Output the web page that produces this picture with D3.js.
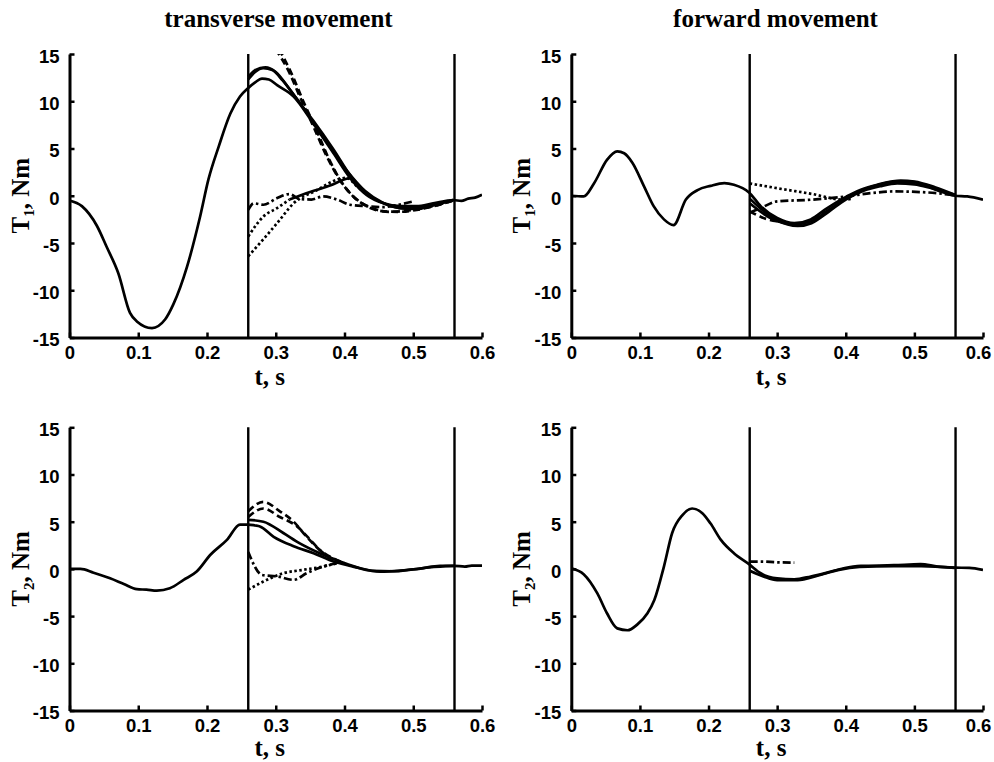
<!DOCTYPE html>
<html>
<head>
<meta charset="utf-8">
<script src="https://cdn.jsdelivr.net/npm/d3@7"></script>
<style>
  body { margin: 0; background: #fff; }
  .tick text { font-family: "Liberation Sans", Arial, sans-serif; font-weight: bold; font-size: 18.5px; fill: #000; }
  .lbl { font-family: "Liberation Serif", "Times New Roman", serif; font-weight: bold; fill: #000; }
</style>
</head>
<body>
<svg id="chart" width="994" height="762"></svg>
<script>
'use strict';

// tick values
const xTicks = [0, 0.1, 0.2, 0.3, 0.4, 0.5, 0.6];
const yTicks = [-15, -10, -5, 0, 5, 10, 15];
const markers = [0.26, 0.56];

// T1, transverse movement
const t1TrMain = [[0,-0.5],[0.018,-1.1],[0.04,-3.2],[0.054,-5.4],[0.071,-8.2],[0.088,-12.4],[0.098,-13.3],[0.12,-14.0],[0.139,-13.1],[0.151,-11.5],[0.171,-7.5],[0.19,-2.2],[0.202,1.7],[0.217,5.2],[0.234,8.7],[0.248,10.5],[0.26,11.4],[0.27,12.0],[0.28,12.4],[0.29,12.3],[0.302,11.7],[0.326,10.5],[0.355,7.6],[0.384,4.5],[0.408,1.9],[0.432,0.1],[0.457,-0.8],[0.481,-1.1],[0.505,-1.1],[0.529,-0.8],[0.558,-0.45],[0.57,-0.55],[0.58,-0.3],[0.59,-0.2],[0.6,0.1]];
const t1TrSolidB = [[0.26,12.3],[0.27,13.1],[0.282,13.5],[0.295,13.3],[0.31,12.2],[0.33,10.3],[0.355,7.9],[0.384,4.9],[0.41,2.0],[0.435,0.1],[0.46,-0.9],[0.485,-1.3],[0.51,-1.2],[0.535,-0.9],[0.558,-0.45]];
const t1TrSolidC = [[0.26,12.6],[0.27,13.3],[0.285,13.6],[0.3,13.1],[0.32,11.3],[0.345,8.8],[0.375,5.6],[0.405,2.5],[0.43,0.5],[0.455,-0.7],[0.48,-1.3],[0.505,-1.4],[0.53,-1.0],[0.558,-0.45]];
const t1TrDashA = [[0.3,15.5],[0.32,13.0],[0.335,10.5],[0.355,7.3],[0.374,4.2],[0.393,1.7],[0.413,-0.1],[0.432,-1.1],[0.457,-1.65],[0.48,-1.7],[0.505,-1.5],[0.53,-1.1],[0.558,-0.5]];
const t1TrDashB = [[0.305,15.5],[0.325,12.6],[0.34,10.0],[0.36,6.8],[0.378,3.8],[0.397,1.3],[0.418,-0.4],[0.44,-1.3],[0.465,-1.7],[0.49,-1.6],[0.515,-1.3],[0.54,-0.9],[0.558,-0.5]];
const t1TrDashDot = [[0.26,-1.5],[0.268,-0.8],[0.282,-0.95],[0.302,-0.25],[0.32,0.18],[0.335,-0.35],[0.352,-0.4],[0.369,-0.07],[0.389,-0.4],[0.408,-0.95],[0.432,-1.1],[0.457,-1.2],[0.475,-1.0],[0.5,-0.6]];
const t1TrDotA = [[0.26,-4.3],[0.282,-2.2],[0.302,-1.3],[0.32,-0.4]];
const t1TrRise = [[0.32,-0.4],[0.35,0.4],[0.38,1.1],[0.403,1.8],[0.41,1.9]];
const t1TrDotB = [[0.26,-6.4],[0.282,-4.6],[0.302,-2.9],[0.326,-0.8],[0.36,0.6],[0.389,1.7],[0.403,1.9],[0.418,1.0],[0.44,-0.2]];

// T1, forward movement
const t1FwMain = [[0,0],[0.018,-0.07],[0.033,1.3],[0.052,3.8],[0.067,4.7],[0.077,4.5],[0.089,3.5],[0.106,1.0],[0.12,-1.1],[0.135,-2.5],[0.149,-3.1],[0.167,-0.4],[0.184,0.6],[0.203,1.05],[0.223,1.34],[0.237,1.16],[0.259,0.35],[0.276,-1.1],[0.3,-2.36],[0.325,-2.9],[0.349,-2.5],[0.373,-1.3],[0.397,-0.25],[0.422,0.63],[0.446,1.16],[0.47,1.5],[0.494,1.5],[0.519,1.0],[0.538,0.46],[0.559,0],[0.577,-0.07],[0.6,-0.42]];
const t1FwSolidB = [[0.26,-0.3],[0.28,-1.6],[0.3,-2.6],[0.33,-3.2],[0.35,-2.9],[0.375,-1.7],[0.4,-0.4],[0.425,0.5],[0.45,1.0],[0.475,1.3],[0.5,1.2],[0.525,0.8],[0.559,0.1]];
const t1FwSolidC = [[0.26,-0.8],[0.28,-1.9],[0.3,-2.7],[0.325,-3.0],[0.35,-2.7],[0.375,-1.5],[0.4,-0.3],[0.425,0.6],[0.45,1.2],[0.48,1.6],[0.5,1.5],[0.53,0.9],[0.559,0.1]];
const t1FwDash = [[0.26,-1.65],[0.286,-2.5],[0.31,-2.8],[0.33,-3.0],[0.35,-2.6],[0.37,-1.6]];
const t1FwDot = [[0.26,1.3],[0.3,0.8],[0.35,0.2],[0.397,-0.42],[0.41,-0.3]];
const t1FwDashDot = [[0.26,-1.8],[0.276,-1.3],[0.3,-0.6],[0.349,-0.42],[0.397,-0.1],[0.44,0.3],[0.47,0.46],[0.519,0.35],[0.559,0.05]];

// T2, transverse movement
const t2TrMain = [[0,0],[0.016,0],[0.035,-0.4],[0.059,-1.0],[0.079,-1.6],[0.098,-2.15],[0.112,-2.2],[0.127,-2.3],[0.146,-2.05],[0.166,-1.16],[0.185,-0.28],[0.205,1.5],[0.229,3.07],[0.248,4.7],[0.26,4.7],[0.27,4.6],[0.277,4.5],[0.297,3.4],[0.326,2.4],[0.355,1.66],[0.384,0.78],[0.41,0.3],[0.44,-0.2],[0.47,-0.25],[0.5,-0.05],[0.53,0.2],[0.559,0.32],[0.575,0.25],[0.585,0.35],[0.6,0.35]];
const t2TrSolidB = [[0.26,5.2],[0.282,5.0],[0.311,3.8],[0.335,2.7],[0.364,1.66],[0.394,0.78],[0.423,0.07],[0.452,-0.28],[0.481,-0.18],[0.51,0.04],[0.539,0.32],[0.559,0.32]];
const t2TrDashA = [[0.26,6.1],[0.282,7.1],[0.306,6.1],[0.326,5.0],[0.345,3.4],[0.364,2.0],[0.384,1.1],[0.4,0.6]];
const t2TrDashB = [[0.26,5.5],[0.282,6.4],[0.306,5.5],[0.331,4.5],[0.35,3.1],[0.364,2.0],[0.384,1.0]];
const t2TrDashDot = [[0.26,1.8],[0.28,-0.64],[0.302,-0.8],[0.326,-1.16],[0.345,-0.46],[0.369,0.25],[0.389,0.6]];
const t2TrDot = [[0.26,-2.2],[0.282,-1.34],[0.311,-0.46],[0.34,-0.1],[0.369,0.25],[0.389,0.6]];

// T2, forward movement
const t2FwMain = [[0,0.07],[0.018,-0.56],[0.038,-2.6],[0.052,-4.7],[0.067,-6.3],[0.082,-6.5],[0.096,-5.9],[0.111,-4.7],[0.121,-3.3],[0.135,0.25],[0.147,3.8],[0.162,5.7],[0.176,6.4],[0.191,5.9],[0.203,4.8],[0.218,3.07],[0.237,1.66],[0.259,0.5],[0.276,-0.46],[0.3,-1.0],[0.325,-1.1],[0.349,-0.8],[0.373,-0.39],[0.397,0.07],[0.422,0.32],[0.47,0.39],[0.509,0.5],[0.534,0.25],[0.559,0.14],[0.58,0.1],[0.6,-0.1]];
const t2FwSolidB = [[0.26,-0.2],[0.28,-0.8],[0.3,-1.2],[0.33,-1.2],[0.36,-0.7],[0.39,-0.1],[0.42,0.2],[0.47,0.3],[0.51,0.3],[0.559,0.1]];
const t2FwDashDot = [[0.26,0.78],[0.276,0.78],[0.3,0.7],[0.325,0.67]];

const dashes = { solid: null, dash: '7,4', dot: '2.5,2.5', dashdot: '8,3,2.5,3' };

const panels = [
    { left: 69.5, right: 482, top: 54, bottom: 337.5, title: 'transverse movement', sub: '1', xlab: 385,
      series: [[t1TrMain,'solid'],[t1TrSolidB,'solid'],[t1TrSolidC,'solid'],[t1TrDashA,'dash'],[t1TrDashB,'dash'],[t1TrDashDot,'dashdot'],[t1TrDotA,'dot'],[t1TrRise,'solid'],[t1TrDotB,'dot']] },
    { left: 571.3, right: 983, top: 54, bottom: 337.5, title: 'forward movement', sub: '1', xlab: 385,
      series: [[t1FwMain,'solid'],[t1FwSolidB,'solid'],[t1FwSolidC,'solid'],[t1FwDash,'dash'],[t1FwDot,'dot'],[t1FwDashDot,'dashdot']] },
    { left: 69.5, right: 482, top: 427.3, bottom: 710.5, sub: '2', xlab: 756,
      series: [[t2TrMain,'solid'],[t2TrSolidB,'solid'],[t2TrDashA,'dash'],[t2TrDashB,'dash'],[t2TrDashDot,'dashdot'],[t2TrDot,'dot']] },
    { left: 571.3, right: 983, top: 427.3, bottom: 710.5, sub: '2', xlab: 756,
      series: [[t2FwMain,'solid'],[t2FwSolidB,'solid'],[t2FwDashDot,'dashdot']] }
];

const svg = d3.select('#chart');
svg.append('rect').attr('width', 994).attr('height', 762).attr('fill', '#fff');

panels.forEach(function(p, i) {
    const x = d3.scaleLinear().domain([0, 0.6]).range([p.left, p.right]);
    const y = d3.scaleLinear().domain([-15, 15]).range([p.bottom, p.top]);

    svg.append('defs').append('clipPath')
        .attr('id', 'clip' + i)
        .append('rect')
        .attr('x', p.left).attr('y', p.top)
        .attr('width', p.right - p.left).attr('height', p.bottom - p.top);

    // marker lines
    svg.append('g').selectAll('line')
        .data(markers)
        .join('line')
        .attr('x1', d => x(d)).attr('x2', d => x(d))
        .attr('y1', y(15)).attr('y2', y(-15))
        .attr('stroke', '#000')
        .attr('stroke-width', 2.4);

    const line = d3.line()
        .x(d => x(d[0]))
        .y(d => y(d[1]))
        .curve(d3.curveMonotoneX);

    svg.append('g')
        .attr('clip-path', 'url(#clip' + i + ')')
        .selectAll('path')
        .data(p.series)
        .join('path')
        .attr('d', d => line(d[0]))
        .attr('fill', 'none')
        .attr('stroke', '#000')
        .attr('stroke-width', 2.7)
        .attr('stroke-dasharray', d => dashes[d[1]]);

    const xAxis = d3.axisBottom(x)
        .tickValues(xTicks)
        .tickSizeInner(-5)
        .tickSizeOuter(0)
        .tickPadding(8.5)
        .tickFormat(d => d === 0 ? '0' : d3.format('.1f')(d));
    const gx = svg.append('g')
        .attr('transform', 'translate(0,' + p.bottom + ')')
        .call(xAxis);
    // keep the last label inside the page on the right-hand panels
    if (p.right > 900) {
        gx.selectAll('.tick text').filter(d => d === 0.6).attr('x', -5);
    }

    const yAxis = d3.axisLeft(y)
        .tickValues(yTicks)
        .tickSizeInner(-5)
        .tickSizeOuter(0)
        .tickPadding(10)
        .tickFormat(d => String(d));
    const gy = svg.append('g')
        .attr('transform', 'translate(' + p.left + ',0)')
        .call(yAxis);
    gy.selectAll('.tick text').attr('dy', '0.45em');

    [gx, gy].forEach(function(g) {
        g.select('.domain').attr('stroke', '#000').attr('stroke-width', 3);
        g.selectAll('.tick line').attr('stroke', '#000').attr('stroke-width', 2.5);
    });

    // axis titles
    const mid = (p.left + p.right) / 2;
    svg.append('text')
        .attr('class', 'lbl')
        .attr('x', mid - 6).attr('y', p.xlab)
        .attr('text-anchor', 'middle')
        .attr('font-size', 25)
        .text('t, s');

    const yl = svg.append('text')
        .attr('class', 'lbl')
        .attr('font-size', 25)
        .attr('text-anchor', 'middle')
        .attr('transform', 'translate(' + (p.left - 41) + ',' + ((p.top + p.bottom) / 2) + ') rotate(-90)');
    yl.append('tspan').text('T');
    yl.append('tspan').attr('font-size', 15).attr('dy', 5).text(p.sub);
    yl.append('tspan').attr('dy', -5).text(', Nm');

    if (p.title) {
        svg.append('text')
            .attr('class', 'lbl')
            .attr('x', i === 0 ? 278.5 : 775.5).attr('y', 27)
            .attr('text-anchor', 'middle')
            .attr('font-size', 25)
            .text(p.title);
    }
});
</script>
</body>
</html>
